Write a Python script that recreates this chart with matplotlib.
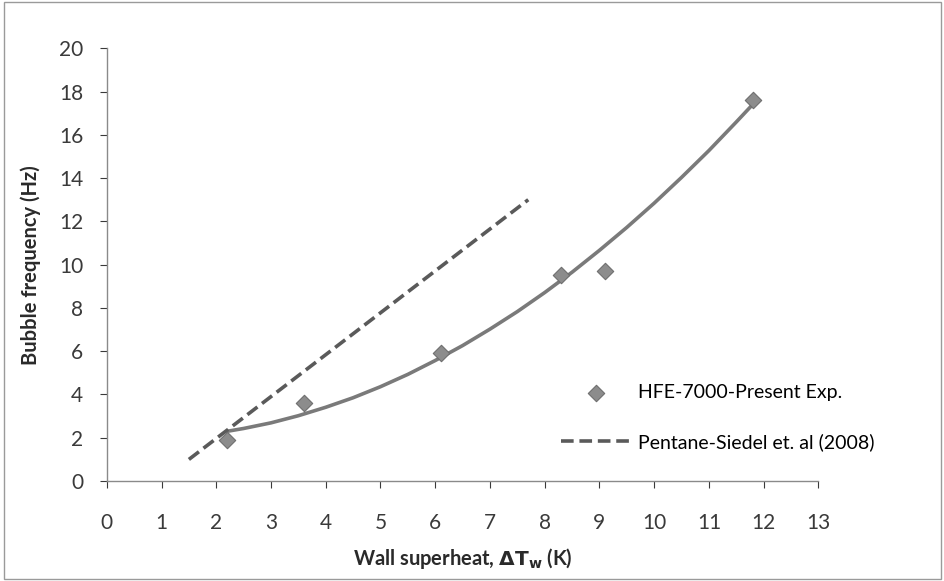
import matplotlib.pyplot as plt
from matplotlib.patches import Rectangle

plt.rcParams['font.family'] = ['Lato', 'DejaVu Sans']

# experimental points (HFE-7000)
exp_x = [2.2, 3.6, 6.1, 8.3, 9.1, 11.8]
exp_y = [1.9, 3.6, 5.9, 9.5, 9.7, 17.6]

fit_x = [2.2, 2.5, 3.0, 3.5, 4.0, 4.5, 5.0, 5.5, 6.0, 6.5, 7.0, 7.5,
         8.0, 8.5, 9.0, 9.5, 10.0, 10.5, 11.0, 11.5, 11.8]
fit_y = [2.30, 2.43, 2.69, 3.02, 3.41, 3.85, 4.36, 4.93, 5.57, 6.26, 7.02, 7.83,
         8.71, 9.65, 10.66, 11.72, 12.84, 14.03, 15.27, 16.59, 17.40]

# Siedel et al. correlation for pentane
sie_x = [1.5, 7.7]
sie_y = [1.0, 13.0]

fig = plt.figure(figsize=(9.45, 5.81), dpi=100)
ax = fig.add_axes([0.113, 0.172, 0.753, 0.745])

ax.plot(fit_x, fit_y, color='#7a7a7a', lw=2.6, solid_capstyle='round')
ax.plot(sie_x, sie_y, color='#5a5a5a', lw=2.6, ls=(0, (3.5, 1.6)),
        label='Pentane-Siedel et. al (2008)')
ax.scatter(exp_x, exp_y, marker='D', s=70, color='#8c8c8c', edgecolor='#6e6e6e',
           linewidth=0.8, zorder=5, label='HFE-7000-Present Exp.')

ax.set_xlim(0, 13)
ax.set_ylim(0, 20)
ax.set_xticks(range(0, 14))
ax.set_yticks(range(0, 21, 2))
ax.tick_params(labelsize=15, colors='#3a3a3a', length=5, width=0.8)
ax.tick_params(axis='y', pad=12)
ax.tick_params(axis='x', pad=18)
for s in ['top', 'right']:
    ax.spines[s].set_visible(False)
for s in ['left', 'bottom']:
    ax.spines[s].set_color('#8a8a8a')
    ax.spines[s].set_linewidth(1.0)

ax.set_xlabel(r'Wall superheat, $\mathbf{\Delta T_w}$ (K)', fontsize=14.5, fontweight='bold',
              color='#2a2a2a', labelpad=9)
ax.set_ylabel('Bubble frequency (Hz)', fontsize=14.5, fontweight='bold', color='#2a2a2a',
              labelpad=13)

h, l = ax.get_legend_handles_labels()
ax.legend(h[::-1], l[::-1], loc='upper left', bbox_to_anchor=(0.628, 0.242),
          frameon=False, fontsize=14, handlelength=3.6, labelspacing=1.65,
          handletextpad=0.35, borderaxespad=0)

fig.patches.append(Rectangle((0.004, 0.004), 0.992, 0.992, transform=fig.transFigure,
                             fill=False, edgecolor='#9a9a9a', lw=1.0))

plt.savefig('out.png', dpi=100)
